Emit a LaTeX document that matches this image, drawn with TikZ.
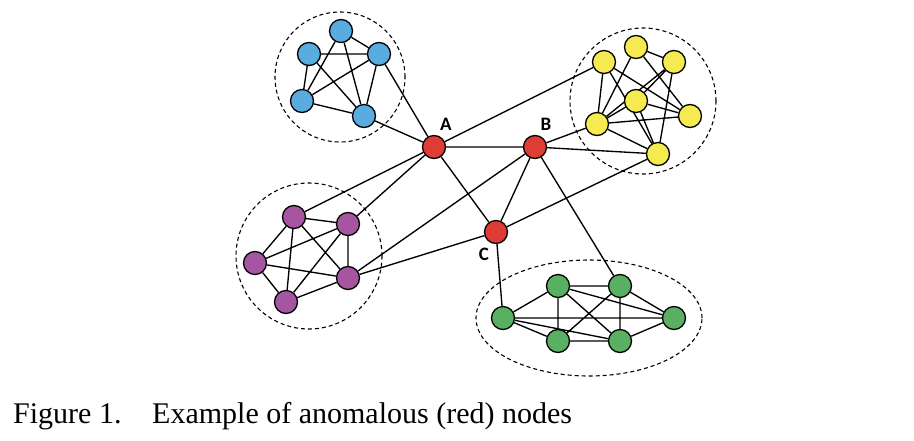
\documentclass[tikz,border=0pt]{standalone}
\usepackage{fontspec}
\setmainfont{Liberation Serif}
\newfontfamily\lblfont{Carlito}
\usetikzlibrary{backgrounds}
\definecolor{cblue}{RGB}{88,172,224}
\definecolor{cyellow}{RGB}{245,234,80}
\definecolor{cred}{RGB}{222,60,52}
\definecolor{cpurple}{RGB}{166,86,160}
\definecolor{cgreen}{RGB}{90,176,98}
\tikzset{
  vtx/.style={circle,draw=black,line width=1.3pt,minimum size=23pt,inner sep=0pt},
  bv/.style={vtx,fill=cblue},
  yv/.style={vtx,fill=cyellow},
  rv/.style={vtx,fill=cred},
  pv/.style={vtx,fill=cpurple},
  gv/.style={vtx,fill=cgreen},
  edge/.style={line width=1.35pt,black},
  hull/.style={dash pattern=on 4pt off 3pt,line width=1.1pt,black},
  lbl/.style={font=\lblfont\bfseries\fontsize{19}{21}\selectfont,inner sep=0pt},
  captxt/.style={font=\fontsize{30}{36}\selectfont,inner sep=0pt,anchor=base west}
}
\begin{document}
\begin{tikzpicture}[x=1pt,y=-1pt]
\useasboundingbox (0,0) rectangle (914,440);
% dashed cluster outlines
\draw[hull] (340,77) circle[radius=65pt];
\draw[hull] (643,101) circle[radius=73pt];
\draw[hull] (309,256) circle[radius=73pt];
\draw[hull] (589,318) ellipse[x radius=113pt,y radius=58pt];
% blue
\node[bv] (b1) at (341,31) {};
\node[bv] (b2) at (309,54) {};
\node[bv] (b3) at (379,54) {};
\node[bv] (b4) at (302,101) {};
\node[bv] (b5) at (364,116) {};
% yellow
\node[yv] (y1) at (636,47) {};
\node[yv] (y2) at (604,62) {};
\node[yv] (y3) at (674,62) {};
\node[yv] (y4) at (636,101) {};
\node[yv] (y5) at (690,116) {};
\node[yv] (y6) at (597,124) {};
\node[yv] (y7) at (658,154) {};
% purple
\node[pv] (p1) at (294,217) {};
\node[pv] (p2) at (348,224) {};
\node[pv] (p3) at (255,263) {};
\node[pv] (p4) at (348,278) {};
\node[pv] (p5) at (286,302) {};
% green
\node[gv] (g1) at (503,318) {};
\node[gv] (g2) at (558,286) {};
\node[gv] (g3) at (620,286) {};
\node[gv] (g4) at (674,318) {};
\node[gv] (g5) at (558,341) {};
\node[gv] (g6) at (620,341) {};
% red
\node[rv] (A) at (434,147) {};
\node[rv] (B) at (535,147) {};
\node[rv] (C) at (496,232) {};
\node[lbl] (lA) at (446,124) {A};
\node[lbl] (lB) at (546,124) {B};
\node[lbl] (lC) at (484,254) {C};
\begin{pgfonlayer}{background}
\draw[edge] (b1)--(b3) (b1)--(b4) (b1)--(b5) (b2)--(b3) (b2)--(b4) (b2)--(b5)
  (b3)--(b4) (b3)--(b5) (b4)--(b5);
\draw[edge] (y1)--(y3) (y1)--(y6) (y1)--(y5) (y2)--(y6) (y2)--(y7) (y2)--(y5)
  (y3)--(y6) (y3)--(y4) (y3)--(y7) (y4)--(y6) (y4)--(y5) (y4)--(y7)
  (y6)--(y5) (y6)--(y7);
\draw[edge] (p1)--(p2) (p1)--(p3) (p1)--(p4) (p1)--(p5) (p2)--(p3) (p2)--(p4)
  (p2)--(p5) (p3)--(p4) (p3)--(p5) (p4)--(p5);
\draw[edge] (g1)--(g2) (g1)--(g4) (g1)--(g5) (g1)--(g6) (g2)--(g3) (g2)--(g5)
  (g2)--(g4) (g2)--(g6) (g3)--(g5) (g3)--(g6) (g3)--(g4) (g5)--(g6) (g6)--(g4);
\draw[edge] (A)--(B) (A)--(C) (B)--(C) (A)--(b3) (A)--(b5) (A)--(y2) (A)--(p1)
  (A)--(p2) (B)--(y6) (B)--(y7) (B)--(p4) (B)--(g3) (C)--(p4) (C)--(y7) (C)--(g1);
\end{pgfonlayer}
% caption
\node[captxt] (fig) at (13,423) {Figure 1.};
\node[captxt] (txt) at (152,423) {Example of anomalous (red) nodes};
\end{tikzpicture}
\end{document}
